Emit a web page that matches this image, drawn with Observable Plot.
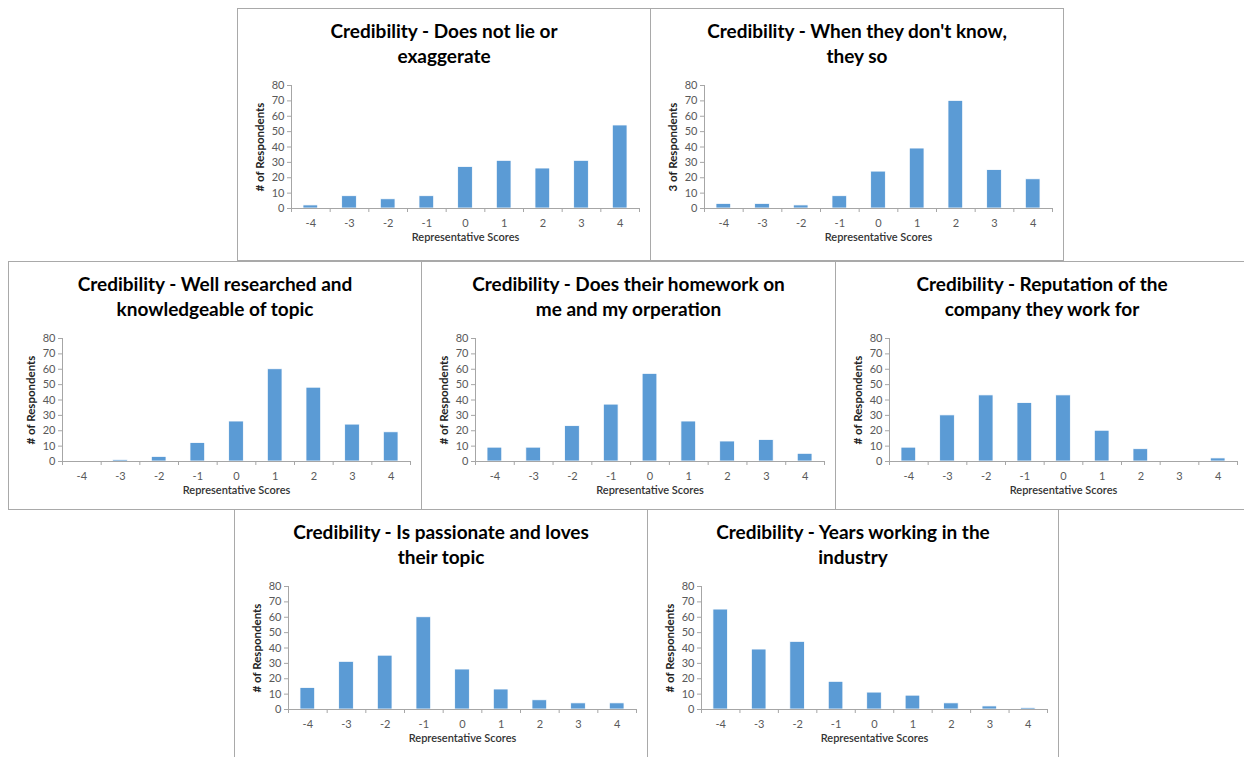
<!DOCTYPE html>
<html>
<head>
<meta charset="utf-8">
<script src="https://cdn.jsdelivr.net/npm/d3@7"></script>
<script src="https://cdn.jsdelivr.net/npm/@observablehq/plot@0.6"></script>
<style>
  html, body { margin: 0; padding: 0; background: #ffffff; }
  body { width: 1244px; height: 757px; position: relative; overflow: hidden; font-family: Lato, "Open Sans", sans-serif; }
  .panel { position: absolute; background: #ffffff; border: 1.5px solid #a9a9a9; box-sizing: border-box; overflow: hidden; }
  .title { position: absolute; left: 0; right: 0; top: 9px; text-align: center; font-weight: bold; font-size: 19px; line-height: 25px; color: #000; letter-spacing: 0px; }
  .chart { position: absolute; left: 0; top: 64px; }
</style>
</head>
<body>
<script>
const scores = [-4, -3, -2, -1, 0, 1, 2, 3, 4];
const yTicks = [0, 10, 20, 30, 40, 50, 60, 70, 80];
const titles = [
  ["Credibility - Does not lie or", "exaggerate"],
  ["Credibility - When they don't know,", "they so"],
  ["Credibility - Well researched and", "knowledgeable of topic"],
  ["Credibility - Does their homework on", "me and my orperation"],
  ["Credibility - Reputation of the", "company they work for"],
  ["Credibility - Is passionate and loves", "their topic"],
  ["Credibility - Years working in the", "industry"]
];
const yLabels = ["# of Respondents", "3 of Respondents", "# of Respondents", "# of Respondents", "# of Respondents", "# of Respondents", "# of Respondents"];
const xLabel = "Representative Scores";
const doesNotLie   = [2, 8, 6, 8, 27, 31, 26, 31, 54];
const dontKnow     = [3, 3, 2, 8, 24, 39, 70, 25, 19];
const wellResearch = [0, 1, 3, 12, 26, 60, 48, 24, 19];
const homework     = [9, 9, 23, 37, 57, 26, 13, 14, 5];
const reputation   = [9, 30, 43, 38, 43, 20, 8, 0, 2];
const passionate   = [14, 31, 35, 60, 26, 13, 6, 4, 4];
const yearsWorking = [65, 39, 44, 18, 11, 9, 4, 2, 1];
const series = [doesNotLie, dontKnow, wellResearch, homework, reputation, passionate, yearsWorking];

// panel boxes: left, top, width, height
const boxes = [
  [237, 8, 414, 253],
  [650, 8, 414, 253],
  [8, 261, 414, 249],
  [421, 261, 415, 249],
  [835, 261, 414, 249],
  [234, 509, 414, 252],
  [647, 509, 412, 252]
];

const boundaries = d3.range(-4.5, 4.51, 1);
const halfBar = 0.19;

series.forEach((vals, i) => {
  const [left, top, w, h] = boxes[i];
  const panel = document.createElement("div");
  panel.className = "panel";
  Object.assign(panel.style, {left: left + "px", top: top + "px", width: w + "px", height: h + "px"});
  const t = document.createElement("div");
  t.className = "title";
  t.innerHTML = titles[i].join("<br>");
  panel.appendChild(t);

  const data = scores.map((s, k) => ({score: s, count: vals[k]}));
  const chart = Plot.plot({
    width: w - 3,
    height: 190,
    marginTop: 12,
    marginBottom: 55,
    marginLeft: 53,
    marginRight: 10,
    style: {fontFamily: "Lato, 'Open Sans', sans-serif", fontSize: "11px", color: "#595959", background: "transparent", overflow: "visible"},
    x: {domain: [-4.5, 4.5], axis: null},
    y: {domain: [0, 80], axis: null},
    marks: [
      Plot.rectY(data, {x1: d => d.score - halfBar, x2: d => d.score + halfBar, y: "count", fill: "#5b9bd5", stroke: "#ffffff", strokeWidth: 0.8}),
      Plot.ruleY([0], {stroke: "#a6a6a6", strokeWidth: 1}),
      Plot.ruleX([-4.5], {stroke: "#a6a6a6", strokeWidth: 1}),
      Plot.axisY({ticks: yTicks, tickSize: 4, tickPadding: 3, stroke: "#a6a6a6", fill: "#595959", label: null, fontSize: 11}),
      Plot.axisX({ticks: boundaries, tickSize: 4, tickFormat: () => "", stroke: "#a6a6a6", label: null}),
      Plot.axisX({ticks: scores, tickSize: 0, tickPadding: 11, tickFormat: d => d, fill: "#595959", label: null, fontSize: 11}),
      Plot.text([yLabels[i]], {frameAnchor: "left", textAnchor: "middle", rotate: -90, dx: -31, text: d => d, fontWeight: "bold", fontSize: 11.5, fill: "#222"}),
      Plot.text([xLabel], {frameAnchor: "bottom", dy: 32, text: d => d, fontSize: 11, fill: "#333", fontWeight: 600})
    ]
  });
  const wrap = document.createElement("div");
  wrap.className = "chart";
  wrap.appendChild(chart);
  panel.appendChild(wrap);
  document.body.appendChild(panel);
});
</script>
</body>
</html>
